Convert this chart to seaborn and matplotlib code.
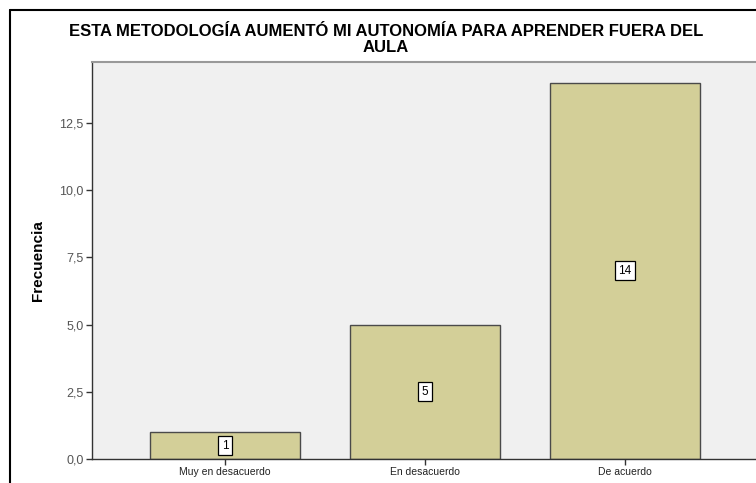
import matplotlib
matplotlib.use("Agg")
import matplotlib.pyplot as plt
import seaborn as sns
import numpy as np
from matplotlib.lines import Line2D
from matplotlib.ticker import FixedLocator, FuncFormatter

# Data
categories = ["Muy en desacuerdo", "En desacuerdo", "De acuerdo"]
counts = [1, 5, 14]
y_ticks = [0.0, 2.5, 5.0, 7.5, 10.0, 12.5]

title_lines = ["ESTA METODOLOGÍA AUMENTÓ MI AUTONOMÍA PARA APRENDER FUERA DEL", "AULA"]

sns.set_theme(style="white")
plt.rcParams['font.family'] = ['Liberation Sans', 'DejaVu Sans']

W, H = 756, 483
fig = plt.figure(figsize=(W / 100, H / 100), dpi=100)

# axes placed in pixel terms (right edge runs just past the cropped image)
left, right, bottom, top = 92, 758, 459, 62
ax = fig.add_axes([left / W, 1 - bottom / H, (right - left) / W, (bottom - top) / H])
ax.set_facecolor("#f0f0f0")

sns.barplot(x=categories, y=counts, color="#d3cf98", saturation=1, width=0.75,
            edgecolor="#4a4a4a", linewidth=1.0, ax=ax)

# value labels in white boxes at mid-height
for cont in ax.containers:
    ax.bar_label(cont, label_type="center", fontsize=8.5, color="black",
                 bbox=dict(boxstyle="square,pad=0.3", facecolor="white",
                           edgecolor="black", linewidth=0.9))

ax.set_xlim(-0.665, 2.665)
ax.set_ylim(0, 14.77)
ax.yaxis.set_major_locator(FixedLocator(y_ticks))
ax.yaxis.set_major_formatter(FuncFormatter(lambda v, p: f"{v:.1f}".replace(".", ",")))

ax.set_xlabel("")
ax.set_ylabel("Frecuencia", fontsize=11, fontweight="bold", labelpad=10, color="black")

ax.tick_params(axis="both", which="both", direction="out", length=4, width=1,
               color="#333333", pad=2)
ax.tick_params(axis="x", labelsize=7.5, labelcolor="#222222")
ax.tick_params(axis="y", labelsize=9, labelcolor="#555555")
ax.tick_params(bottom=True, left=True)

for side in ["left", "bottom"]:
    ax.spines[side].set_color("#333333")
    ax.spines[side].set_linewidth(1.0)
ax.spines["top"].set_color("#999999")
ax.spines["top"].set_linewidth(1.5)
ax.spines["right"].set_visible(False)

# outer chart frame (cropped at right and bottom)
fx, fy = 10 / W, 1 - 9.5 / H
fig.add_artist(Line2D([fx, fx], [0, fy], color="black", linewidth=1.5, transform=fig.transFigure))
fig.add_artist(Line2D([fx, 1.0], [fy, fy], color="black", linewidth=1.5, transform=fig.transFigure))

# two-line title, baselines placed separately
for line, base in zip(title_lines, [36.5, 52]):
    fig.text(386 / W, 1 - base / H, line, ha="center", va="baseline", fontsize=12,
             fontweight="bold", color="black")

fig.savefig("out.png", dpi=100)
